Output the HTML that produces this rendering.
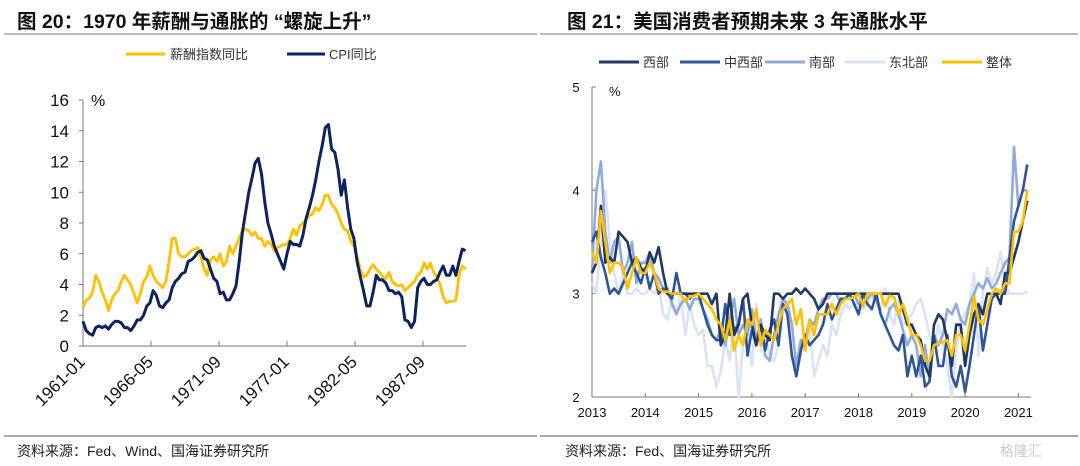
<!DOCTYPE html>
<html><head><meta charset="utf-8">
<style>
body{margin:0;background:#fff;}
svg{display:block;font-family:"Liberation Sans","Noto Sans CJK SC",sans-serif;}
</style></head>
<body>
<svg id="s" width="1080" height="466" viewBox="0 0 1080 466" xmlns="http://www.w3.org/2000/svg">
<g>
<text x="17" y="28" font-size="19.5" font-weight="bold" fill="#111">图 20：1970 年薪酬与通胀的 “螺旋上升”</text>
<line x1="4" y1="34" x2="537" y2="34" stroke="#777" stroke-width="1"/>
<line x1="126" y1="54" x2="165" y2="54" stroke="#ffc000" stroke-width="3"/>
<text x="170" y="59" font-size="13" fill="#333">薪酬指数同比</text>
<line x1="287" y1="54" x2="325" y2="54" stroke="#0d2260" stroke-width="3"/>
<text x="329" y="59" font-size="13" fill="#333">CPI同比</text>
<text x="91" y="106" font-size="16" fill="#111">%</text>
<g id="L"></g>
<line x1="4" y1="436" x2="537" y2="436" stroke="#555" stroke-width="1"/>
<text x="17" y="456" font-size="14" fill="#222">资料来源：Fed、Wind、国海证券研究所</text>
</g>
<g>
<text x="567" y="28" font-size="19.5" font-weight="bold" fill="#111">图 21：美国消费者预期未来 3 年通胀水平</text>
<line x1="540" y1="34" x2="1078" y2="34" stroke="#777" stroke-width="1"/>
<text x="609" y="96" font-size="13" fill="#111">%</text>
<g id="R"></g>
<line x1="540" y1="436" x2="1078" y2="436" stroke="#555" stroke-width="1"/>
<text x="565" y="456" font-size="14" fill="#222">资料来源：Fed、国海证券研究所</text>
<text x="1000" y="456" font-size="14" fill="#ccc">格隆汇</text>
</g>
</svg>
<script>
// ---- Left chart data (quarterly, 1961Q1 .. 1991Q1) ----
const leftTickLabels=["1961-01","1966-05","1971-09","1977-01","1982-05","1987-09"];
const leftYTicks=[0,2,4,6,8,10,12,14,16];
const cpiValues=[1.6,1.0,0.8,0.7,1.2,1.3,1.2,1.3,1.1,1.4,1.6,1.6,1.5,1.2,1.2,1.0,1.3,1.7,1.7,2.0,2.6,2.8,3.6,3.3,2.6,2.5,2.8,3.0,3.8,4.2,4.4,4.7,4.8,5.5,5.6,5.8,6.1,6.2,5.7,5.6,5.0,4.4,4.2,3.4,3.5,3.0,3.0,3.4,3.9,5.5,7.4,8.7,10.0,10.9,11.9,12.2,11.2,9.4,8.0,7.3,6.5,6.0,5.5,5.0,6.0,6.8,6.6,6.6,6.5,7.2,8.3,9.0,9.8,10.8,12.0,13.0,14.2,14.4,12.8,12.6,11.5,9.8,10.8,9.0,7.6,7.0,5.5,4.5,3.6,2.6,2.6,3.5,4.6,4.3,4.3,4.1,3.6,3.6,3.4,3.5,3.2,1.7,1.6,1.2,1.6,3.8,4.2,4.4,4.0,4.0,4.2,4.3,4.8,5.2,4.6,4.6,5.2,4.6,5.5,6.3,6.2];
const wageValues=[2.5,3.0,3.1,3.5,4.6,4.2,3.5,3.0,2.3,3.0,3.4,3.6,4.2,4.6,4.3,4.0,3.4,2.8,3.4,4.2,4.5,5.2,4.6,4.2,4.0,3.8,4.2,5.5,7.0,7.0,6.0,5.8,5.8,6.0,6.2,6.3,6.4,5.8,5.0,4.6,5.6,5.8,5.5,6.0,5.2,5.5,6.5,6.0,6.5,7.0,7.5,7.6,7.5,7.2,7.4,7.0,7.0,6.5,6.8,6.6,6.2,6.4,6.5,6.6,6.6,7.0,7.6,7.2,7.8,8.0,8.2,8.5,8.6,9.0,8.8,9.2,9.8,9.8,9.2,9.0,8.6,8.0,7.6,7.5,6.8,6.5,5.8,5.0,4.5,4.6,5.0,5.3,5.0,4.8,4.5,4.4,4.8,4.2,4.0,3.9,4.0,3.6,3.8,4.0,4.2,4.6,4.8,5.4,5.0,5.4,4.8,4.5,4.0,3.2,2.8,2.9,2.9,3.0,4.6,5.2,5.0];

// ---- Right chart data (monthly, 2013-01 .. 2021-03) ----
const rightXLabels=["2013","2014","2015","2016","2017","2018","2019","2020","2021"];
const rightYTicks=[2,3,4,5];
const seriesNames=["西部","中西部","南部","东北部","整体"];
const westValues=[3.2,3.3,3.85,3.3,3.35,3.3,3.6,3.55,3.5,3.3,3.35,3.25,3.2,3.4,3.3,3.45,3.2,3.0,3.0,3.0,3.0,3.0,3.0,3.0,3.0,3.0,3.0,2.9,3.0,2.5,2.6,3.0,2.6,2.7,2.95,3.0,2.7,2.5,2.7,2.6,2.55,3.0,3.0,2.95,3.0,3.0,3.05,3.0,3.05,3.0,2.95,2.85,2.9,3.0,3.0,3.0,3.0,3.0,3.0,3.0,3.0,3.0,3.0,3.0,3.0,3.0,3.0,3.0,3.0,3.0,2.85,2.7,2.7,2.6,2.55,2.3,2.2,2.7,2.8,2.75,2.55,2.3,2.7,2.7,2.3,2.6,2.8,2.9,2.8,3.0,3.0,3.0,2.9,3.2,3.2,3.35,3.5,3.7,3.9];
const midwestValues=[3.5,3.6,3.35,3.2,3.0,3.05,3.0,3.1,3.2,3.3,3.2,3.1,3.25,3.05,3.2,3.0,3.05,3.0,2.95,3.2,3.0,3.0,2.95,3.0,3.0,2.85,2.7,2.6,2.55,2.55,2.9,2.6,2.65,2.7,2.95,2.4,2.65,2.5,2.7,2.45,2.65,2.75,2.5,2.9,2.8,2.4,2.2,2.45,2.6,2.5,2.55,2.6,2.7,2.9,2.75,2.85,2.95,2.95,3.0,2.9,2.8,3.0,2.9,2.85,3.0,2.8,2.7,2.6,2.5,2.45,2.6,2.2,2.4,2.2,2.4,2.1,2.15,2.6,2.3,2.3,2.6,2.2,2.1,2.3,2.05,2.3,2.6,2.9,2.45,2.7,2.95,3.0,3.0,3.0,3.35,3.7,3.85,4.0,4.25];
const southValues=[3.2,4.0,4.28,3.6,3.3,3.5,3.55,3.2,3.3,3.5,3.1,3.3,3.3,3.4,3.2,3.15,3.05,3.05,2.9,2.8,2.9,2.95,2.85,2.95,2.95,2.85,2.75,2.6,2.55,2.65,2.5,2.75,2.95,2.6,2.7,2.6,2.85,2.55,2.75,2.4,2.35,2.6,2.8,2.95,2.9,2.7,2.3,2.55,2.55,2.75,2.7,2.85,2.95,2.95,3.0,3.0,2.9,2.95,3.0,3.0,2.9,3.0,2.95,3.0,2.95,2.8,2.7,2.85,2.9,2.8,2.65,2.5,2.6,2.5,2.2,2.5,2.15,2.6,2.5,2.6,2.85,2.8,2.9,2.75,2.7,2.9,3.0,3.1,3.05,3.15,3.05,3.1,3.2,3.3,3.35,4.42,3.85,4.0,4.0];
const northeastValues=[3.1,3.0,3.5,4.0,3.5,3.2,3.0,3.2,3.0,3.0,3.05,3.0,3.0,3.05,3.0,3.1,2.8,2.75,2.95,2.8,3.0,2.6,2.9,2.7,2.6,2.65,2.3,2.3,2.1,2.25,2.55,2.35,2.7,2.0,2.5,2.6,2.3,2.9,2.45,2.6,2.4,2.35,2.5,2.95,2.85,2.4,2.2,2.4,2.6,2.7,2.2,2.35,2.5,2.4,2.7,2.6,2.8,2.9,2.85,2.9,2.9,2.85,2.9,3.0,2.9,2.85,3.05,2.8,2.7,2.95,2.7,2.75,2.8,2.9,2.95,2.8,2.6,2.5,2.7,2.5,2.3,2.0,2.45,2.75,2.8,2.9,3.2,2.4,3.0,3.25,3.1,3.2,3.4,3.1,3.0,3.0,3.0,3.0,3.02];
const overallValues=[3.4,3.3,3.8,3.5,3.2,3.3,3.3,3.25,3.05,3.2,3.35,3.2,3.2,3.3,3.2,3.05,3.02,3.02,3.0,3.0,3.0,2.92,2.97,2.98,3.0,2.95,2.9,2.85,2.75,2.7,2.55,2.75,2.45,2.6,2.5,2.75,2.7,2.85,2.5,2.65,2.6,2.55,2.7,2.85,2.9,2.95,2.7,2.85,2.45,2.75,2.6,2.8,2.8,2.8,2.9,2.8,2.9,2.95,2.95,2.97,3.0,2.88,3.0,3.0,3.0,3.0,2.88,2.98,2.97,2.8,2.9,2.75,2.6,2.6,2.5,2.35,2.35,2.5,2.52,2.53,2.55,2.4,2.6,2.6,2.45,2.7,2.97,2.75,2.7,2.85,3.0,3.05,3.0,3.1,3.1,3.6,3.6,3.7,4.0];

const NS="http://www.w3.org/2000/svg";
function mk(parent,tag,attrs){const e=document.createElementNS(NS,tag);for(const k in attrs)e.setAttribute(k,attrs[k]);parent.appendChild(e);return e;}

// Left axes
const L=document.getElementById('L');
const lx0=83,lx1=466,ly0=346,ly1=100;
const lxq=i=>lx0+i*3*1.0625;
const lxm=m=>lx0+m*1.0625;
const ly=v=>ly0-(v-0)/(16-0)*(ly0-ly1);
let e=mk(L,'line',{x1:lx0,y1:ly1,x2:lx0,y2:ly0,stroke:'#777','stroke-width':1});


e=mk(L,'line',{x1:lx0,y1:ly0,x2:lx1,y2:ly0,stroke:'#777','stroke-width':1});


leftYTicks.forEach(v=>{
  const t=mk(L,'line',{x1:lx0-4,y1:ly(v),x2:lx0,y2:ly(v),stroke:'#777'});
  
  
  const tx=mk(L,'text',{x:lx0-14,y:ly(v)+6,'font-size':17,'text-anchor':'end',fill:'#111'});
  tx.textContent=v;
  
  
});
leftTickLabels.forEach((lab,i)=>{
  const x=lxm(i*64);
  const t=mk(L,'line',{x1:x,y1:ly0,x2:x,y2:ly0-5,stroke:'#777'});
  
  
  const tx=mk(L,'text',{x:x+3,y:ly0+17,'font-size':17,'text-anchor':'end',fill:'#111',transform:`rotate(-45 ${x+3} ${ly0+17})`});
  tx.textContent=lab;
  
  
});
function lpath(vals){return vals.map((v,i)=>(i?'L':'M')+lxq(i).toFixed(1)+','+ly(v).toFixed(1)).join('');}
e=mk(L,'path',{d:lpath(wageValues),fill:'none',stroke:'#ffc000','stroke-width':2.8,'stroke-linejoin':'round'});


e=mk(L,'path',{d:lpath(cpiValues),fill:'none',stroke:'#0d2260','stroke-width':3,'stroke-linejoin':'round'});



// Right axes
const R=document.getElementById('R');
const rx0=592,rx1=1031,ry0=397,ry1=87;
const rx=m=>rx0+m*53.3/12;
const ry=v=>ry0-(v-2)/(5-2)*(ry0-ry1);
e=mk(R,'line',{x1:rx0,y1:ry1,x2:rx0,y2:ry0,stroke:'#777'});


e=mk(R,'line',{x1:rx0,y1:ry0,x2:rx1,y2:ry0,stroke:'#777'});


rightYTicks.forEach(v=>{
  const t=mk(R,'line',{x1:rx0,y1:ry(v),x2:rx0+4,y2:ry(v),stroke:'#777'});
  
  
  const tx=mk(R,'text',{x:rx0-16,y:ry(v)+5,'font-size':13,'text-anchor':'middle',fill:'#111'});
  tx.textContent=v;
  
  
});
rightXLabels.forEach((lab,i)=>{
  const x=rx(i*12);
  const t=mk(R,'line',{x1:x,y1:ry0,x2:x,y2:ry0-4,stroke:'#777'});
  
  
  const tx=mk(R,'text',{x:x,y:ry0+20,'font-size':13,'text-anchor':'middle',fill:'#111'});
  tx.textContent=lab;
  
  
});
const rSeries=[westValues,midwestValues,southValues,northeastValues,overallValues];
const rColors=['#1f3864','#2f5597','#8faadc','#dae3f3','#ffc000'];
const rKeys=['west','midwest','south','northeast','overall'];
const legX=[599,680,765,845,942];
const drawOrder=[3,2,1,0,4];
drawOrder.forEach(k=>{
  const d=rSeries[k].map((v,i)=>(i?'L':'M')+rx(i).toFixed(1)+','+ry(v).toFixed(1)).join('');
  const p=mk(R,'path',{d:d,fill:'none',stroke:rColors[k],'stroke-width':2.6,'stroke-linejoin':'round'});
  
  
});
seriesNames.forEach((n,k)=>{
  const sw=mk(R,'line',{x1:legX[k],y1:62,x2:legX[k]+40,y2:62,stroke:rColors[k],'stroke-width':3});
  
  
  const tx=mk(R,'text',{x:legX[k]+44,y:67,'font-size':13,fill:'#333'});
  tx.textContent=n;
  
  
});
</script>
</body></html>
